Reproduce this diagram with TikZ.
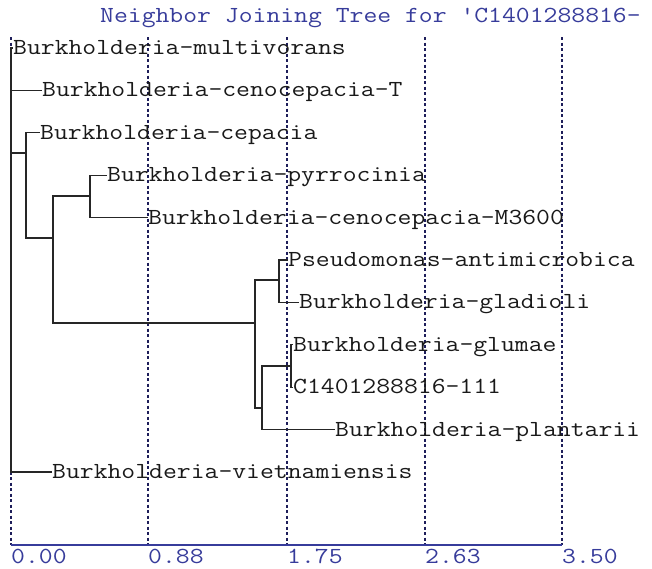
\documentclass[tikz,border=0pt]{standalone}
\usepackage{fontspec}
\newfontfamily\treefont[FakeStretch=1.17]{Latin Modern Mono}
\usepackage{tikz}
\usetikzlibrary{positioning, calc}
\definecolor{treeblue}{RGB}{55,60,155}
\definecolor{gridblue}{RGB}{30,30,90}

\begin{document}
\begin{tikzpicture}[x=1pt, y=-1pt,
	leaf/.style={anchor=west, inner sep=0pt, text height=13pt, text depth=0pt, text=black!90, font=\treefont\fontsize{23}{23}\selectfont},
	scalelabel/.style={leaf, text=treeblue},
	branch/.style={draw=black!85, line width=1.2pt},
	gridline/.style={draw=gridblue, line width=1.1pt, dash pattern=on 3pt off 2.5pt},
	axisline/.style={draw=treeblue, line width=1.2pt}]
	\pgfmathsetmacro{\rowtop}{48}
	\pgfmathsetmacro{\rowgap}{42.4}
	\useasboundingbox[fill=white] (0,0) rectangle (652,568);
	
	\node[scalelabel] (title) at (100,16) {Neighbor Joining Tree for 'C1401288816-};
	
	\foreach \gx/\lab [count=\i] in {11/0.00, 148/0.88, 287/1.75, 425/2.63, 562/3.50} {
		\draw[gridline] (\gx,37) -- (\gx,545);
		\node[scalelabel] (tick\i) at (\gx,557) {\lab};
	}
	\draw[axisline] (tick1.north west |- 0,545) -- (tick5.north west |- 0,545);
	
	\foreach \name/\xx/\txt [count=\i from 0] in {multi/13/Burkholderia-multivorans, cenoT/42/Burkholderia-cenocepacia-T, cepacia/40/Burkholderia-cepacia, pyrro/107/Burkholderia-pyrrocinia, cenoM/148/Burkholderia-cenocepacia-M3600, pseudo/288/Pseudomonas-antimicrobica, gladioli/299/Burkholderia-gladioli, glumae/293/Burkholderia-glumae, query/293/C1401288816-111, plantarii/335/Burkholderia-plantarii, viet/52/Burkholderia-vietnamiensis}
		\node[leaf] (\name) at (\xx, {\rowtop+\rowgap*\i}) {\txt};
	
	\coordinate (root) at (11,260);
	\coordinate (nA) at (26,153);
	\coordinate (nB) at (53,238);
	\coordinate (nC) at (90,196);
	\coordinate (nD) at (255,323);
	\coordinate (nE) at (279,280);
	\coordinate (nF) at (262,408);
	\coordinate (nG) at (291,366);
	
	\draw[branch, line width=2pt] (multi.west -| root) -- (viet.west -| root);
	\draw[branch] (root) |- (multi.west) (root) |- (cenoT.west) (root) |- (nA) (root) |- (viet.west);
	\draw[branch] (nA) |- (cepacia.west) (nA) |- (nB);
	\draw[branch] (nB) |- (nC) (nB) |- (nD);
	\draw[branch] (nC) |- (pyrro.west) (nC) |- (cenoM.west);
	\draw[branch] (nD) |- (nE) (nD) |- (nF);
	\draw[branch] (nE) |- (pseudo.west) (nE) |- (gladioli.west);
	\draw[branch] (nF) |- (nG) (nF) |- (plantarii.west);
	\draw[branch] (nG) |- (glumae.west) (nG) |- (query.west);
\end{tikzpicture}
\end{document}
